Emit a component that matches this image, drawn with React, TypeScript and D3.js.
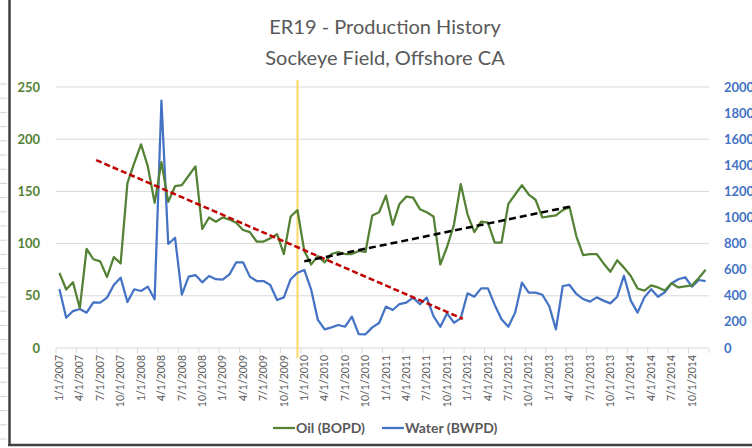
import React from "react";
import * as d3 from "d3";

const titleLines = ["ER19 - Production History", "Sockeye Field, Offshore CA"];

const oil = [72,56,63,38,95,85,83,68,87,81,158,177,195,174,139,178,140,155,156,165,174,114,125,121,125,123,120,113,111,102,102,105,109,90,126,132,93,80,88,82,90,92,90,90,93,92,127,130,146,118,138,145,144,133,130,126,80,97,118,157,128,111,121,120,101,101,138,147,156,147,142,125,126,127,132,135,107,89,90,90,81,73,84,77,69,57,55,60,58,55,62,58,59,60,67,75];

const water = [452,232,283,299,271,350,348,386,483,539,352,450,437,470,373,1895,797,845,409,547,559,503,552,527,524,564,657,657,547,513,513,483,368,388,527,577,598,450,215,143,158,176,163,240,107,105,158,192,317,291,337,347,386,335,386,245,163,266,194,227,419,393,457,457,330,220,163,271,501,424,424,408,322,143,475,483,414,375,355,388,363,342,393,554,363,271,388,450,393,427,496,527,542,470,521,513];

const tickLabels = ["1/1/2007","4/1/2007","7/1/2007","10/1/2007","1/1/2008","4/1/2008","7/1/2008","10/1/2008","1/1/2009","4/1/2009","7/1/2009","10/1/2009","1/1/2010","4/1/2010","7/1/2010","10/1/2010","1/1/2011","4/1/2011","7/1/2011","10/1/2011","1/1/2012","4/1/2012","7/1/2012","10/1/2012","1/1/2013","4/1/2013","7/1/2013","10/1/2013","1/1/2014","4/1/2014","7/1/2014","10/1/2014"];

const oilTicks = [0, 50, 100, 150, 200, 250];
const waterTicks = [0, 200, 400, 600, 800, 1000, 1200, 1400, 1600, 1800, 2000];

// trend lines: [monthIndex, oilValue]
const redTrend: [number, number][] = [[5.4, 180], [59.3, 28]];
const blackTrend: [number, number][] = [[36, 83], [75.5, 136]];
const markerMonth = 35; // Dec 2009

const legendItems = [
  { label: "Oil (BOPD)", color: "#548235" },
  { label: "Water (BWPD)", color: "#4472C4" },
];

const FONT = "Lato, 'Open Sans', sans-serif";

export default function App() {
  const W = 752, H = 448;
  const x = d3.scaleLinear().domain([0, 96]).range([56, 709]);
  const yL = d3.scaleLinear().domain([0, 250]).range([348, 87]);
  const yR = d3.scaleLinear().domain([0, 2000]).range([348, 87]);
  const px = (i: number) => x(i + 0.5);

  const oilLine = d3.line<number>().x((_, i) => px(i)).y((d) => yL(d));
  const waterLine = d3.line<number>().x((_, i) => px(i)).y((d) => yR(d));
  const trendLine = d3.line<[number, number]>().x((d) => px(d[0])).y((d) => yL(d[1]));

  const quarterTicks = d3.range(0, 33).map((q) => q * 3);
  const rowMarks = d3.range(0, 26).map((k) => 84 + k * 14.2);

  return (
    <svg width={W} height={H} style={{ position: "absolute", left: 0, top: 0, background: "#fff" }} fontFamily={FONT}>
      <rect x={0} y={0} width={W} height={H} fill="#fff" />
      {rowMarks.map((y, k) => (
        <line key={k} x1={0} x2={7} y1={y} y2={y} stroke="#d4d4d4" strokeWidth={1} />
      ))}
      <line x1={9.5} x2={9.5} y1={0} y2={446} stroke="#404040" strokeWidth={2.5} />
      <line x1={8} x2={W} y1={445} y2={445} stroke="#404040" strokeWidth={2.5} />

      {titleLines.map((t, k) => (
        <text key={k} x={385} y={34 + k * 31} textAnchor="middle" fontSize={20} fill="#595959">{t}</text>
      ))}

      {oilTicks.map((t) => (
        <line key={t} x1={56} x2={709} y1={yL(t)} y2={yL(t)} stroke="#d9d9d9" strokeWidth={1} />
      ))}
      {quarterTicks.map((m) => (
        <line key={m} x1={x(m)} x2={x(m)} y1={348} y2={353} stroke="#d9d9d9" strokeWidth={1} />
      ))}

      {oilTicks.map((t) => (
        <text key={t} x={40} y={yL(t)} dy="0.35em" textAnchor="end" fontSize={13} fontWeight="bold" fill="#548235">{t}</text>
      ))}
      {waterTicks.map((t) => (
        <text key={t} x={724} y={yR(t)} dy="0.35em" textAnchor="start" fontSize={13} fontWeight="bold" fill="#4472C4">{t}</text>
      ))}

      {tickLabels.map((lab, q) => (
        <text key={lab} transform={`translate(${px(q * 3)},355) rotate(-90)`} dy="0.35em" textAnchor="end" fontSize={10.5} fill="#595959">{lab}</text>
      ))}

      <line x1={px(markerMonth)} x2={px(markerMonth)} y1={80} y2={358} stroke="#FFD966" strokeWidth={2} />

      <path d={waterLine(water) || ""} fill="none" stroke="#4472C4" strokeWidth={2.25} strokeLinejoin="round" />
      <path d={oilLine(oil) || ""} fill="none" stroke="#548235" strokeWidth={2.25} strokeLinejoin="round" />

      <path d={trendLine(redTrend) || ""} fill="none" stroke="#C00000" strokeWidth={2.5} strokeDasharray="6 3" />
      <path d={trendLine(blackTrend) || ""} fill="none" stroke="#000" strokeWidth={2.5} strokeDasharray="7 4" />

      {legendItems.map((it, k) => {
        const lx = k === 0 ? 273 : 382;
        return (
          <g key={it.label}>
            <line x1={lx} x2={lx + 22} y1={428} y2={428} stroke={it.color} strokeWidth={2.25} />
            <text x={lx + 23} y={428} dy="0.35em" fontSize={14} fontWeight="bold" fill="#595959">{it.label}</text>
          </g>
        );
      })}
    </svg>
  );
}
